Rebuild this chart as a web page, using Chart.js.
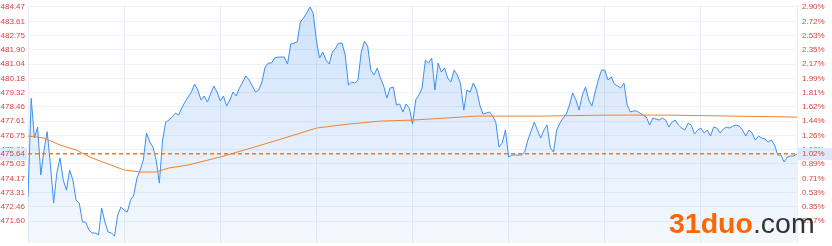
<!DOCTYPE html>
<html>
<head>
<meta charset="utf-8">
<script src="https://cdn.jsdelivr.net/npm/chart.js@4/dist/chart.umd.min.js"></script>
<style>
  body { margin: 0; background: #fff; }
  #wrap { position: relative; width: 832px; height: 246px; }
  #logo {
    position: absolute; left: 669px; top: 209px;
    font: bold 28.5px "Liberation Sans", Arial, sans-serif; line-height: 28px;
    color: #ff6600; white-space: nowrap;
  }
  #logo span { color: #333; font-weight: normal; }
</style>
</head>
<body>
<div id="wrap">
  <canvas id="chart" width="832" height="246"></canvas>
  <div id="logo">31duo<span>.com</span></div>
</div>
<script>
const lastPrice = 475.64
const lastPct = "1.02%"

const priceTicks = [484.47, 483.61, 482.75, 481.90, 481.04, 480.18, 479.32, 478.46,
  477.61, 476.75, 475.89, 475.03, 474.17, 473.31, 472.46, 471.60]
const pctTicks = ["2.90%", "2.72%", "2.53%", "2.35%", "2.17%", "1.99%", "1.81%", "1.62%",
  "1.44%", "1.26%", "1.08%", "0.89%", "0.71%", "0.53%", "0.35%", "0.17%"]

// one price per minute, 9:30 .. 15:00 (240 trading minutes)
const prices = [
  473.06, 478.98, 476.60, 477.25, 474.37, 475.87, 476.97, 474.97, 472.68, 474.49,
  475.39, 474.07, 473.46, 474.67, 474.07, 472.86, 472.68, 471.54, 471.54, 471.06,
  470.88, 470.88, 470.76, 472.38, 471.54, 470.94, 470.88, 470.70, 471.96, 472.44,
  472.26, 472.14, 472.86, 473.16, 474.18, 474.67, 475.27, 476.89, 476.35, 476.05,
  475.27, 473.88, 476.47, 477.55, 477.67, 477.85, 478.09, 477.97, 478.40, 478.76,
  479.06, 479.36, 479.84, 479.48, 478.88, 479.12, 478.76, 479.24, 479.72, 479.36,
  478.82, 479.12, 478.52, 478.88, 479.36, 479.12, 479.60, 479.96, 480.32, 480.08,
  479.72, 479.36, 479.48, 479.96, 480.86, 481.10, 481.10, 481.40, 481.46, 481.46,
  481.46, 481.04, 482.24, 482.30, 482.37, 483.57, 483.81, 484.11, 484.47, 484.11,
  482.48, 481.40, 481.76, 481.28, 481.04, 481.76, 482.00, 482.30, 482.30, 481.58,
  479.78, 479.96, 479.90, 480.08, 481.76, 482.42, 482.12, 480.68, 480.38, 480.80,
  480.20, 479.72, 479.00, 479.60, 479.66, 478.58, 478.64, 478.16, 478.64, 478.40,
  477.43, 478.88, 479.18, 479.60, 481.28, 481.10, 481.40, 479.48, 481.10, 480.56,
  480.80, 480.20, 479.96, 480.68, 480.38, 479.84, 478.27, 479.48, 479.36, 479.90,
  479.48, 478.58, 478.03, 478.09, 478.16, 477.91, 477.55, 476.05, 476.29, 477.07,
  475.45, 475.57, 475.57, 475.57, 475.57, 475.75, 476.47, 477.01, 477.55, 477.07,
  476.59, 477.07, 477.37, 476.01, 475.75, 477.07, 477.49, 477.79, 478.03, 478.58,
  479.30, 478.88, 478.27, 479.18, 479.66, 478.88, 478.52, 479.36, 480.08, 480.68,
  480.68, 480.08, 480.26, 479.84, 479.72, 479.60, 479.90, 478.58, 478.16, 478.22,
  478.22, 478.09, 477.97, 477.85, 477.37, 477.79, 477.73, 477.67, 477.79, 477.67,
  477.25, 477.55, 477.67, 477.37, 477.19, 477.07, 477.49, 477.37, 476.83, 477.07,
  477.19, 476.89, 477.07, 476.71, 477.25, 477.19, 476.89, 477.13, 477.25, 477.19,
  477.31, 477.37, 477.31, 477.07, 476.71, 477.07, 476.89, 476.47, 476.71, 476.59,
  476.53, 476.35, 476.47, 476.17, 475.57, 475.57, 475.15, 475.45, 475.51, 475.51,
  475.64
]

// average price line
const avgMinutes = [0, 5, 10, 15, 20, 25, 30, 35, 40, 44, 50, 60, 70, 80, 90, 100, 110, 120, 140, 160, 180, 200, 220, 240]
const avgPrices = [476.71, 476.59, 476.17, 475.87, 475.39, 475.03, 474.67, 474.55, 474.55, 474.79,
  474.97, 475.45, 476.01, 476.59, 477.19, 477.43, 477.61, 477.67, 477.91, 477.91, 477.97, 477.97, 477.91, 477.85]

const RED = "#e23c3c"
const TICK_FONT = { family: "'Liberation Sans', Arial, sans-serif", size: 8 }

const lastPriceMarks = {
  id: "lastPriceMarks",
  afterDatasetsDraw(chart) {
    const { ctx, chartArea } = chart
    const y = chart.scales.y.getPixelForValue(lastPrice)
    ctx.save()
    ctx.strokeStyle = "#f47a20"
    ctx.lineWidth = 1.5
    ctx.setLineDash([4, 3])
    ctx.beginPath()
    ctx.moveTo(chartArea.left, y)
    ctx.lineTo(chartArea.right, y)
    ctx.stroke()
    ctx.restore()
  },
  afterDraw(chart) {
    const { ctx, chartArea } = chart
    const y = Math.round(chart.scales.y.getPixelForValue(lastPrice))
    ctx.save()
    ctx.fillStyle = "#dceafc"
    ctx.fillRect(0, y - 6, chartArea.left - 1, 12)
    ctx.fillRect(chartArea.right + 1, y - 6, 832 - chartArea.right, 12)
    ctx.fillStyle = RED
    ctx.font = "8px 'Liberation Sans', Arial, sans-serif"
    ctx.textBaseline = "middle"
    ctx.textAlign = "right"
    ctx.fillText(lastPrice.toFixed(2), chartArea.left - 3, y)
    ctx.textAlign = "left"
    ctx.fillText(lastPct, chartArea.right + 5, y)
    ctx.restore()
  },
}

function noEdgePadding(s) {
  s.paddingTop = 0
  s.paddingBottom = 0
  s.paddingLeft = 0
  s.paddingRight = 0
}

const ctx = document.getElementById("chart").getContext("2d")
const fillGrad = ctx.createLinearGradient(0, 0, 0, 246)
fillGrad.addColorStop(0, "rgba(64,140,240,0.26)")
fillGrad.addColorStop(1, "rgba(64,140,240,0.05)")

new Chart(ctx, {
  type: "line",
  data: {
    datasets: [
      {
        label: "avg",
        data: avgMinutes.map((m, i) => ({ x: m, y: avgPrices[i] })),
        borderColor: "#f0812e",
        borderWidth: 1,
        pointRadius: 0,
        fill: false,
        order: 0,
      },
      {
        label: "price",
        data: prices.map((p, i) => ({ x: i, y: p })),
        borderColor: "#3d8ef0",
        backgroundColor: fillGrad,
        borderWidth: 1,
        pointRadius: 0,
        fill: "start",
        order: 1,
      },
    ],
  },
  options: {
    responsive: false,
    animation: false,
    devicePixelRatio: 1,
    layout: { padding: { top: 4, bottom: 3 } },
    plugins: { legend: { display: false }, tooltip: { enabled: false } },
    scales: {
      x: {
        type: "linear",
        min: 0,
        max: 240,
        ticks: { stepSize: 30, display: false },
        grid: { color: "#e9eef6", drawTicks: false },
        border: { display: false },
        afterFit(s) { s.height = 0; noEdgePadding(s) },
      },
      y: {
        position: "left",
        min: 470.28,
        max: 484.65,
        afterBuildTicks(s) { s.ticks = priceTicks.map(v => ({ value: v })) },
        ticks: {
          color: RED,
          font: TICK_FONT,
          padding: 3,
          autoSkip: false,
          callback: v => v.toFixed(2),
        },
        grid: { color: "#eef2f7", drawTicks: false },
        border: { display: false },
        afterFit(s) { s.width = 28; noEdgePadding(s) },
      },
      y2: {
        position: "right",
        min: 470.28,
        max: 484.65,
        afterBuildTicks(s) { s.ticks = priceTicks.map(v => ({ value: v })) },
        ticks: {
          color: RED,
          font: TICK_FONT,
          padding: 5,
          autoSkip: false,
          callback: (v, i) => pctTicks[i],
        },
        grid: { display: false, drawTicks: false },
        border: { display: false },
        afterFit(s) { s.width = 35; noEdgePadding(s) },
      },
    },
  },
  plugins: [lastPriceMarks],
})
</script>
</body>
</html>
